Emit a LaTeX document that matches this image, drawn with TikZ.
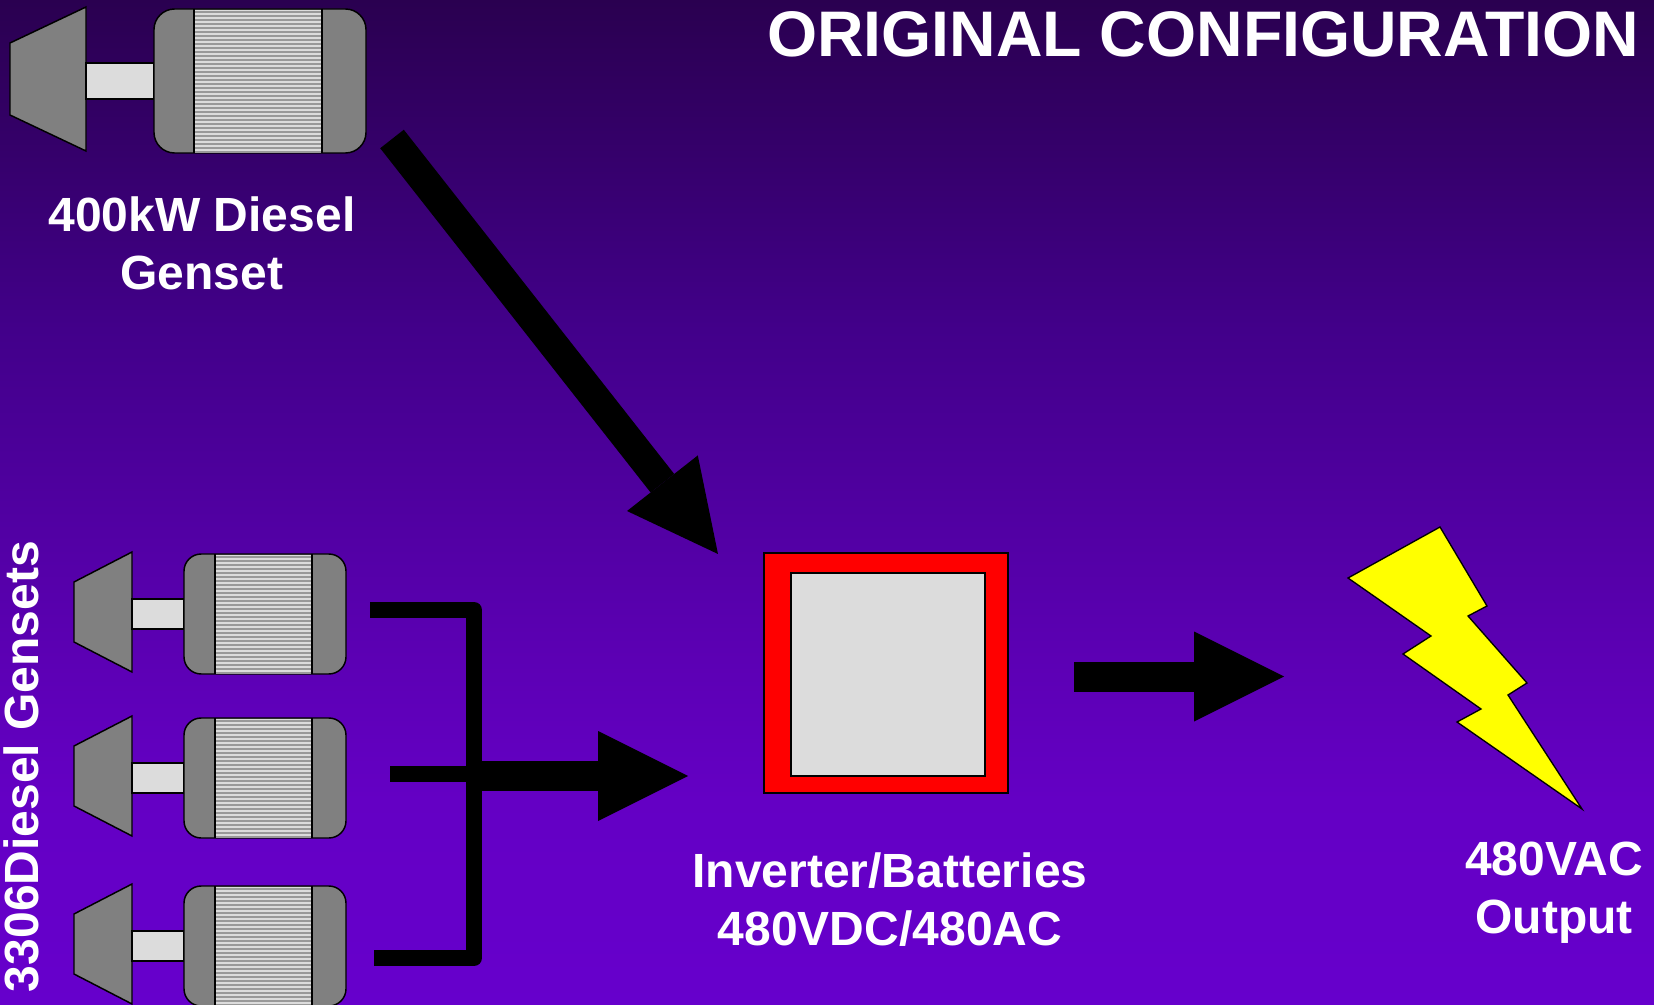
\documentclass[tikz,border=0pt]{standalone}
\usepackage{fontspec}
\setmainfont{Liberation Sans}
\usetikzlibrary{arrows.meta}
\definecolor{bga}{HTML}{2A0050}
\definecolor{bgb}{HTML}{42008A}
\definecolor{bgc}{HTML}{5C00B4}
\definecolor{bgd}{HTML}{6400C4}
\definecolor{bge}{HTML}{6600CC}
\pgfdeclareverticalshading{bggrad}{100bp}{color(0bp)=(bge); color(25bp)=(bge); color(35.2bp)=(bgd); color(42.2bp)=(bgc); color(58.6bp)=(bgb); color(75bp)=(bga); color(100bp)=(bga)}
\definecolor{steel}{HTML}{808080}
\definecolor{pale}{HTML}{DCDCDC}
\definecolor{stripe}{HTML}{999999}
\definecolor{boltyellow}{HTML}{FFFF00}
\definecolor{boxred}{HTML}{FF0000}
\tikzset{
  edge/.style={draw=black,line width=1.1pt,line join=miter},
  motorbox/.style={edge,fill=steel,rectangle,inner sep=0pt,outer sep=0pt},
  label/.style={text=white,inner sep=0pt,outer sep=0pt,align=center,
    font=\fontsize{36}{43.5}\selectfont\bfseries},
  titletext/.style={text=white,inner sep=0pt,outer sep=0pt,
    font=\fontsize{48.3}{56}\selectfont\bfseries},
  blockarrow/.style={draw=black,line width=22.5pt,-{Triangle[length=67.5pt,width=67.5pt,line width=0pt]}},
  busline/.style={draw=black,line width=12pt,line join=round}
}
% name, xLeft, xTrapRight, xMotorLeft, xBandLeft, xBandRight, xMotorRight, yTop, yBottom
\newcommand{\gensetunit}[9]{%
  \pgfmathsetmacro{\ghh}{#9-#8}%
  \pgfmathsetmacro{\gtt}{#8-2}%
  \pgfmathsetmacro{\gtb}{#9-2}%
  \pgfmathsetmacro{\gti}{#8-2+0.25*\ghh}%
  \pgfmathsetmacro{\gtj}{#9-2-0.25*\ghh}%
  \pgfmathsetmacro{\gsa}{#8+0.375*\ghh}%
  \pgfmathsetmacro{\gsb}{#8+0.625*\ghh}%
  \pgfmathsetmacro{\gcx}{(#4+#7)/2}%
  \pgfmathsetmacro{\gcy}{(#8+#9)/2}%
  \pgfmathsetmacro{\gw}{(#7-#4)*0.75}%
  \pgfmathsetmacro{\gh}{\ghh*0.75}%
  \pgfmathsetmacro{\gr}{\ghh*0.75/7}%
  \draw[edge,fill=steel] (#2,\gti) -- (#2,\gtj) -- (#3,\gtb) -- (#3,\gtt) -- cycle;
  \draw[edge,fill=pale] (#3,\gsa) rectangle (#4,\gsb);
  \node[motorbox,minimum width=\gw pt,minimum height=\gh pt,rounded corners=\gr pt] (#1) at (\gcx,\gcy) {};
  \fill[pale] (#5,#8+0.6) rectangle (#6,#9-0.6);
  \pgfmathsetmacro{\gys}{#8+3}%
  \pgfmathsetmacro{\gyn}{#8+7}%
  \pgfmathsetmacro{\gye}{#9-1}%
  \foreach \yy in {\gys,\gyn,...,\gye} {\draw[stripe,line width=1.2pt] (#5,\yy) -- (#6,\yy);}
  \draw[edge] (#5,#8) -- (#5,#9) (#6,#8) -- (#6,#9);
}
\begin{document}
\begin{tikzpicture}[x=0.75pt,y=-0.75pt]
\clip (0,0) rectangle (1654,1005);
\shade[shading=bggrad] (0,0) rectangle (1654,1005);

\gensetunit{bigmotor}{10}{86}{154}{194}{322}{366}{9}{153}
\gensetunit{smallA}{74}{132}{184}{215}{312}{346}{554}{674}
\gensetunit{smallB}{74}{132}{184}{215}{312}{346}{718}{838}
\gensetunit{smallC}{74}{132}{184}{215}{312}{346}{886}{1006}

% inverter
\node[edge,fill=boxred,rectangle,inner sep=0pt,outer sep=0pt,minimum width=183pt,minimum height=180pt] (inverter) at (886,673) {};
\node[edge,fill=pale,rectangle,inner sep=0pt,outer sep=0pt,minimum width=145.5pt,minimum height=152.25pt] (invcore) at (888,674.5) {};

% bolt
\draw[edge,fill=boltyellow,line width=1pt] (1348,578) coordinate (bolt) -- (1440,527) -- (1487,606) -- (1468,616) -- (1527,683) -- (1508,695) -- (1582,809) -- (1457,722) -- (1481,709) -- (1403,654) -- (1431,636) -- cycle;

% connectors
\coordinate (dieselout) at (392,139);
\coordinate (dieselin) at (718,554);
\coordinate (busA) at (370,610);
\coordinate (busB) at (474,610);
\coordinate (busC) at (474,958);
\coordinate (busD) at (374,958);
\coordinate (stubstart) at (390,774);
\coordinate (stubend) at (474,774);
\coordinate (busout) at (474,776);
\coordinate (busin) at (688,776);
\coordinate (invout) at (1074,676.5);
\coordinate (boltin) at (1284,676.5);
\draw[blockarrow] (dieselout) -- (dieselin);
\draw[busline] (busA) -- (busB) -- (busC) -- (busD);
\draw[busline] (stubstart) -- (stubend);
\draw[blockarrow] (busout) -- (busin);
\draw[blockarrow] (invout) -- (boltin);

% text
\node[titletext,anchor=base east] (title) at (1639,57) {ORIGINAL CONFIGURATION};
\node[label] (biglabel) at (202,243) {400kW Diesel\\Genset};
\node[label] (invlabel) at (890,900) {Inverter/Batteries\\480VDC/480AC};
\node[label] (outlabel) at (1554,893) {480VAC\\Output};
\node[label,rotate=90,anchor=base west] (smalllabel) at (38.5,992) {3306Diesel Gensets};
\end{tikzpicture}
\end{document}
